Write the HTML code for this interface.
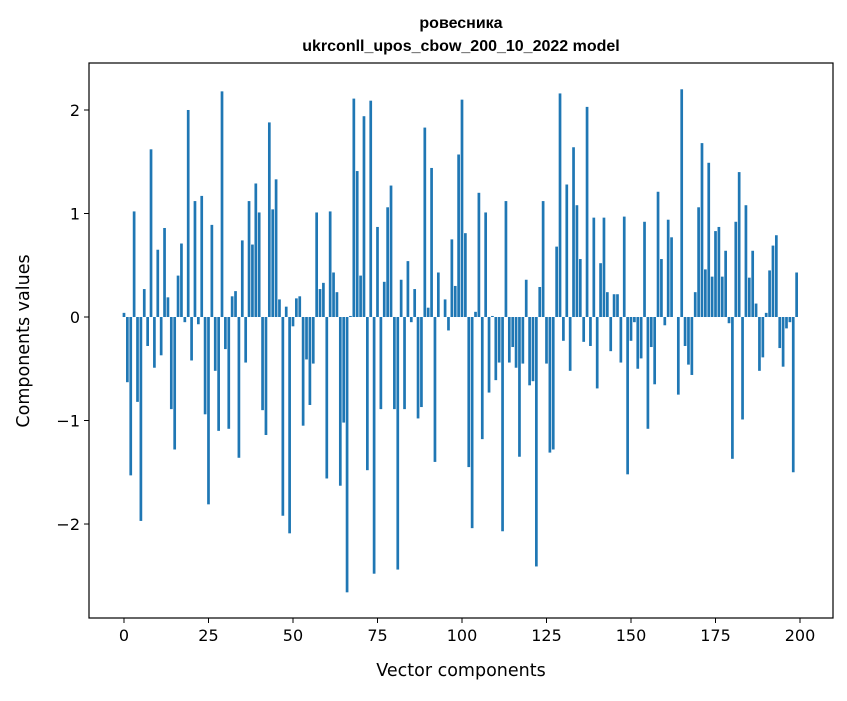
<!DOCTYPE html>
<html><head><meta charset="utf-8"><style>
body{margin:0;background:#fff;font-family:"Liberation Sans","DejaVu Sans",sans-serif;}
</style></head><body>
<svg id="chart" width="847" height="696" xmlns="http://www.w3.org/2000/svg" font-family="'DejaVu Sans','Liberation Sans',sans-serif">
<rect width="847" height="696" fill="#fff"/>
<text x="461" y="28" text-anchor="middle" font-size="16" font-weight="bold" font-family="'Liberation Sans',sans-serif">ровесника</text>
<text x="461" y="51" text-anchor="middle" font-size="16" font-weight="bold" font-family="'Liberation Sans',sans-serif">ukrconll_upos_cbow_200_10_2022 model</text>
<g id="bars"></g>
<g id="axes"></g>
<text x="461" y="676" text-anchor="middle" font-size="17.5">Vector components</text>
<text transform="translate(29,341) rotate(-90)" text-anchor="middle" font-size="17.5">Components values</text>
</svg>
<script>
const values=[0.04,-0.63,-1.53,1.02,-0.82,-1.97,0.27,-0.28,1.62,-0.49,0.65,-0.37,0.86,0.19,-0.89,-1.28,0.40,0.71,-0.05,2.00,-0.42,1.12,-0.07,1.17,-0.94,-1.81,0.89,-0.52,-1.10,2.18,-0.31,-1.08,0.20,0.25,-1.36,0.74,-0.44,1.12,0.70,1.29,1.01,-0.90,-1.14,1.88,1.04,1.33,0.17,-1.92,0.10,-2.09,-0.09,0.18,0.20,-1.05,-0.41,-0.85,-0.45,1.01,0.27,0.33,-1.56,1.02,0.43,0.24,-1.63,-1.02,-2.66,0.01,2.11,1.41,0.40,1.94,-1.48,2.09,-2.48,0.87,-0.89,0.34,1.06,1.27,-0.89,-2.44,0.36,-0.89,0.54,-0.05,0.27,-0.98,-0.87,1.83,0.09,1.44,-1.40,0.43,0.00,0.17,-0.13,0.75,0.30,1.57,2.10,0.81,-1.45,-2.04,0.05,1.20,-1.18,1.01,-0.73,0.01,-0.61,-0.44,-2.07,1.12,-0.44,-0.29,-0.49,-1.35,-0.45,0.36,-0.66,-0.62,-2.41,0.29,1.12,-0.45,-1.31,-1.28,0.68,2.16,-0.23,1.28,-0.52,1.64,1.08,0.56,-0.24,2.03,-0.28,0.96,-0.69,0.52,0.96,0.24,-0.33,0.22,0.22,-0.44,0.97,-1.52,-0.23,-0.05,-0.50,-0.40,0.92,-1.08,-0.29,-0.65,1.21,0.56,-0.08,0.94,0.77,0.00,-0.75,2.20,-0.28,-0.46,-0.56,0.24,1.06,1.68,0.46,1.49,0.39,0.83,0.87,0.39,0.64,-0.06,-1.37,0.92,1.40,-0.99,1.08,0.38,0.64,0.13,-0.52,-0.39,0.04,0.45,0.69,0.79,-0.30,-0.48,-0.11,-0.05,-1.50,0.43];
const xTicks=[0,25,50,75,100,125,150,175,200];
const yTicks=[-2,-1,0,1,2];
const yTickLabels=["\u22122","\u22121","0","1","2"];
const L=89,R=833,T=63,B=618;
const xmin=-10.35,xmax=209.76,ymin=-2.908,ymax=2.454;
const sx=v=>L+(v-xmin)/(xmax-xmin)*(R-L);
const sy=v=>B-(v-ymin)/(ymax-ymin)*(B-T);
const NS="http://www.w3.org/2000/svg";
const bars=document.getElementById('bars');
values.forEach((v,i)=>{
  const r=document.createElementNS(NS,'rect');
  const x0=sx(i-0.4),x1=sx(i+0.4),y0=sy(Math.max(v,0)),y1=sy(Math.min(v,0));
  r.setAttribute('x',x0);r.setAttribute('width',x1-x0);
  r.setAttribute('y',y0);r.setAttribute('height',Math.max(y1-y0,0));
  r.setAttribute('fill','#1f77b4');
  
  
  bars.appendChild(r);
});
const ax=document.getElementById('axes');
const frame=document.createElementNS(NS,'rect');
frame.setAttribute('x',L);frame.setAttribute('y',T);frame.setAttribute('width',R-L);frame.setAttribute('height',B-T);
frame.setAttribute('fill','none');frame.setAttribute('stroke','#000');frame.setAttribute('stroke-width','1.2');


ax.appendChild(frame);
xTicks.forEach(t=>{
  const x=sx(t);
  const l=document.createElementNS(NS,'line');
  l.setAttribute('x1',x);l.setAttribute('x2',x);l.setAttribute('y1',B);l.setAttribute('y2',B+5);l.setAttribute('stroke','#000');
  
  
  ax.appendChild(l);
  const tx=document.createElementNS(NS,'text');
  tx.setAttribute('x',x);tx.setAttribute('y',B+23);tx.setAttribute('text-anchor','middle');tx.setAttribute('font-size','16');
  tx.textContent=t;
  
  
  ax.appendChild(tx);
});
yTicks.forEach((t,i)=>{
  const y=sy(t);
  const l=document.createElementNS(NS,'line');
  l.setAttribute('x1',L-5);l.setAttribute('x2',L);l.setAttribute('y1',y);l.setAttribute('y2',y);l.setAttribute('stroke','#000');
  
  
  ax.appendChild(l);
  const tx=document.createElementNS(NS,'text');
  tx.setAttribute('x',L-9);tx.setAttribute('y',y+6);tx.setAttribute('text-anchor','end');tx.setAttribute('font-size','16');
  tx.textContent=yTickLabels[i];
  
  
  ax.appendChild(tx);
});
</script>
</body></html>
